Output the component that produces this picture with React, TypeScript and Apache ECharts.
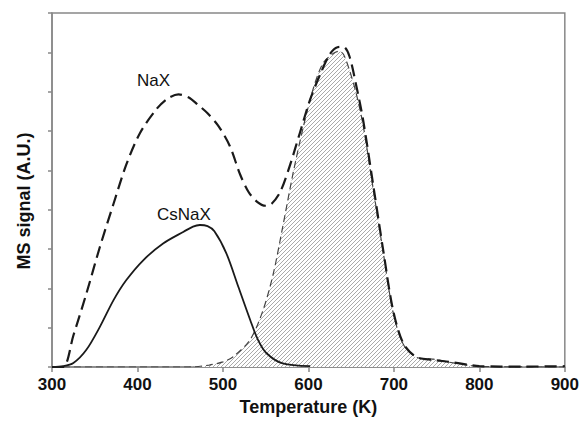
import React, { useEffect, useRef } from "react";
import * as echarts from "echarts";

// NaX (dashed)
const naxT = [300, 313, 325, 340, 356, 372, 387, 403, 422, 435, 448, 460, 470, 482, 495, 508, 520, 530, 540, 550, 557, 567, 578, 590, 602, 614, 625, 634, 641, 648, 656, 664, 676, 688, 699, 711, 726, 746, 765, 789, 800, 850, 900];
const naxV = [0, 0, 0.8, 1.85, 3.05, 4.15, 5.15, 5.95, 6.55, 6.82, 6.93, 6.85, 6.68, 6.45, 6.12, 5.62, 4.9, 4.45, 4.2, 4.1, 4.15, 4.45, 5.1, 5.95, 6.8, 7.45, 7.95, 8.13, 8.14, 7.9, 7.15, 6.28, 4.6, 2.9, 1.45, 0.6, 0.26, 0.18, 0.13, 0.05, 0.02, 0.01, 0.02];

// CsNaX (solid)
const csT = [300, 313, 325, 340, 356, 372, 387, 407, 430, 454, 465, 473, 482, 490, 504, 518, 532, 541, 551, 570, 602];
const csV = [0, 0.02, 0.1, 0.43, 1.02, 1.7, 2.21, 2.72, 3.14, 3.44, 3.57, 3.61, 3.58, 3.45, 2.89, 2.04, 1.19, 0.69, 0.35, 0.09, 0.02];

// High-temperature peak (hatched)
const hatchT = [300, 460, 484, 500, 512, 532, 547, 559, 570, 582, 594, 606, 617, 629, 636, 641, 648, 656, 664, 676, 688, 699, 711, 726, 746, 765, 789, 800, 900];
const hatchV = [0, 0, 0.05, 0.13, 0.26, 0.7, 1.45, 2.38, 3.57, 4.92, 6.1, 7.1, 7.72, 7.97, 8.03, 7.95, 7.55, 6.95, 6.15, 4.5, 2.85, 1.4, 0.58, 0.25, 0.2, 0.12, 0.04, 0.01, 0];

const xTicks = [300, 400, 500, 600, 700, 800, 900];

const zip = (t: number[], v: number[]) => t.map((x, i) => [x, v[i]]);

function makeHatch(): HTMLCanvasElement {
  const c = document.createElement("canvas");
  c.width = 4;
  c.height = 4;
  const ctx = c.getContext("2d")!;
  ctx.fillStyle = "#ffffff";
  ctx.fillRect(0, 0, 4, 4);
  ctx.strokeStyle = "#a0a0a0";
  ctx.lineWidth = 0.9;
  ctx.beginPath();
  ctx.moveTo(-1, 5);
  ctx.lineTo(5, -1);
  ctx.moveTo(-1, 1);
  ctx.lineTo(1, -1);
  ctx.moveTo(3, 5);
  ctx.lineTo(5, 3);
  ctx.stroke();
  return c;
}

export default function App() {
  const ref = useRef<HTMLDivElement>(null);
  useEffect(() => {
    if (!ref.current) return;
    const chart = echarts.init(ref.current, undefined, { renderer: "svg" });
    const font = "Liberation Sans, Arial, sans-serif";
    chart.setOption({
      animation: false,
      grid: { left: 52, right: 16, top: 13, bottom: 54, show: true, borderColor: "#888", borderWidth: 1.5, backgroundColor: "transparent" },
      xAxis: {
        type: "value",
        min: 300,
        max: 900,
        interval: 100,
        splitLine: { show: false },
        axisLine: { lineStyle: { color: "#888", width: 1.5 } },
        axisTick: { inside: false, length: 5, lineStyle: { color: "#888", width: 1.5 } },
        axisLabel: { color: "#111", fontWeight: "bold", fontSize: 17, fontFamily: font, margin: 9, formatter: (v: number) => (xTicks.includes(v) ? String(v) : "") },
        name: "Temperature (K)",
        nameLocation: "middle",
        nameGap: 31,
        nameTextStyle: { color: "#111", fontWeight: "bold", fontSize: 18, fontFamily: font },
      },
      yAxis: {
        type: "value",
        min: 0,
        max: 9,
        interval: 1,
        splitLine: { show: false },
        axisLine: { show: true, lineStyle: { color: "#888", width: 1.5 } },
        axisTick: { show: true, inside: false, length: 4, lineStyle: { color: "#888", width: 1.5 } },
        axisLabel: { show: false },
      },
      graphic: [
        { type: "text", x: 23.5, y: 201, rotation: Math.PI / 2, style: { text: "MS signal (A.U.)", fill: "#111", font: `bold 18px ${font}`, align: "center", verticalAlign: "middle" } },
        { type: "text", x: 137, y: 80, style: { text: "NaX", fill: "#111", font: `17px ${font}`, align: "left", verticalAlign: "middle" } },
        { type: "text", x: 157, y: 214, style: { text: "CsNaX", fill: "#111", font: `17px ${font}`, align: "left", verticalAlign: "middle" } },
      ],
      series: [
        {
          type: "line",
          data: zip(hatchT, hatchV),
          smooth: 0.3,
          showSymbol: false,
          lineStyle: { color: "#444", width: 1.2, type: [7, 4] },
          areaStyle: { color: { image: makeHatch(), repeat: "repeat" }, opacity: 1 },
          z: 1,
        },
        {
          type: "line",
          data: zip(csT, csV),
          smooth: 0.3,
          showSymbol: false,
          lineStyle: { color: "#1a1a1a", width: 1.8, type: "solid" },
          z: 3,
        },
        {
          type: "line",
          data: zip(naxT, naxV),
          smooth: 0.3,
          showSymbol: false,
          lineStyle: { color: "#1a1a1a", width: 2.2, type: [12, 6] },
          z: 4,
        },
      ],
    });
    return () => chart.dispose();
  }, []);
  return <div ref={ref} style={{ position: "absolute", left: 0, top: 0, width: 582, height: 421 }} />;
}
